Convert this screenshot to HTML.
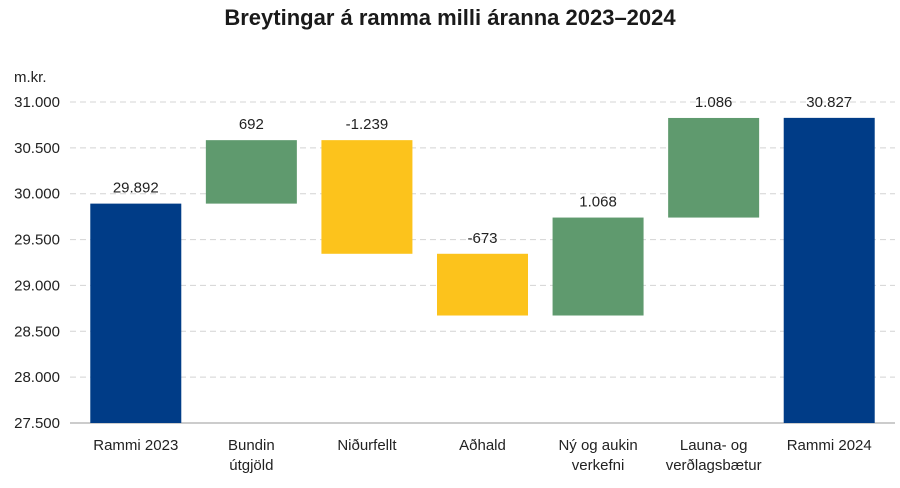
<!DOCTYPE html>
<html><head><meta charset="utf-8"><style>
body{margin:0;background:#fff;width:900px;height:483px;overflow:hidden;font-family:"Liberation Sans",sans-serif}
svg text{font-family:"Liberation Sans",sans-serif}
</style></head><body>
<svg id="chart" width="900" height="483" viewBox="0 0 900 483" xmlns="http://www.w3.org/2000/svg">
<text x="450" y="25" text-anchor="middle" font-size="22" font-weight="bold" fill="#1a1a1a">Breytingar á ramma milli áranna 2023–2024</text>
<text x="14" y="82" font-size="15" fill="#222">m.kr.</text>
<g id="grid"></g><g id="bars"></g><g id="labels"></g>
</svg>
<script>
const categories=[["Rammi 2023"],["Bundin","útgjöld"],["Niðurfellt"],["Aðhald"],["Ný og aukin","verkefni"],["Launa- og","verðlagsbætur"],["Rammi 2024"]];
const kinds=["total","delta","delta","delta","delta","delta","total"];
const values=[29892,692,-1239,-673,1068,1086,30827];
const valueLabels=["29.892","692","-1.239","-673","1.068","1.086","30.827"];
const yTicks=[27500,28000,28500,29000,29500,30000,30500,31000];
const yTickLabels=["27.500","28.000","28.500","29.000","29.500","30.000","30.500","31.000"];
const NS="http://www.w3.org/2000/svg";
const y0=423,y1=102,vmin=27500,vmax=31000,xL=70,xR=895,bw=91;
const y=v=>y0-(v-vmin)/(vmax-vmin)*(y0-y1);
const step=(xR-xL-16)/categories.length;
const xc=i=>xL+16+step*(i+0.5)-8;
function mk(tag,attrs,parent){const e=document.createElementNS(NS,tag);for(const k in attrs)e.setAttribute(k,attrs[k]);document.getElementById(parent).appendChild(e);return e;}
yTicks.forEach((t,i)=>{
 const l=mk("line",{x1:xL,x2:xR,y1:y(t),y2:y(t),stroke:i==0?"#999":"#d4d4d4","stroke-width":1,"stroke-dasharray":i==0?"":"6,4"},"grid");
 
 
 const tx=mk("text",{x:60,y:y(t)+5,"text-anchor":"end","font-size":15,fill:"#222"},"grid");
 tx.textContent=yTickLabels[i];
 
 
});
let run=0;
values.forEach((v,i)=>{
 let a,b,col;
 if(kinds[i]=="total"){a=vmin;b=v;run=v;col="#003c87";}
 else{a=run;b=run+v;run=b;col=v>=0?"#5f9a6e":"#fcc31c";}
 const top=Math.max(a,b),bot=Math.min(a,b);
 const r=mk("rect",{x:xc(i)-bw/2,y:y(top),width:bw,height:y(bot)-y(top),fill:col},"bars");
 
 
 const t=mk("text",{x:xc(i),y:y(top)-11,"text-anchor":"middle","font-size":15,fill:"#222"},"labels");
 t.textContent=valueLabels[i];
 
 
 categories[i].forEach((ln,j)=>{
  const c=mk("text",{x:xc(i),y:450+j*20,"text-anchor":"middle","font-size":15,fill:"#222"},"labels");
  c.textContent=ln;
  
  
 });
});
</script>
</body></html>
